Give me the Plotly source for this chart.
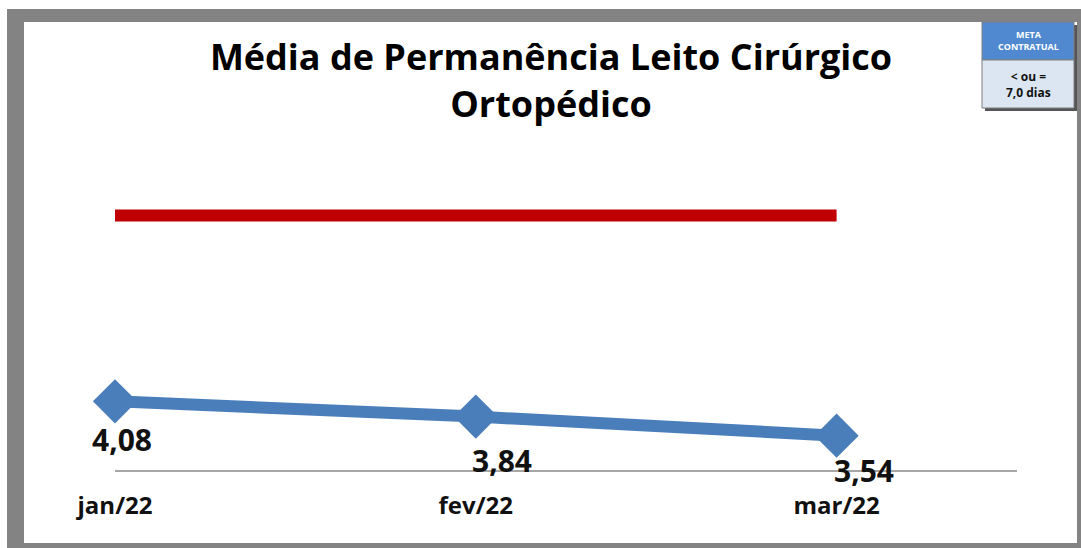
import plotly.graph_objects as go

# ---- data ----
months = ["jan/22", "fev/22", "mar/22"]
media_permanencia = [4.08, 3.84, 3.54]
meta_contratual = [7.0, 7.0, 7.0]
label_texts = ["4,08", "3,84", "3,54"]

# ---- styling / layout helpers ----
W, H = 1081, 548
ML, MR, MT, MB = 115, 64, 152, 78
PW, PH = W - ML - MR, H - MT - MB

def px(x):
    return (x - ML) / PW

def py(y):
    return (H - MB - y) / PH

label_shifts = [(7, -38), (26, -44), (27, -35)]

fig = go.Figure()

fig.add_trace(go.Scatter(
    x=months, y=meta_contratual, mode="lines",
    line=dict(color="#C00000", width=12),
    hoverinfo="skip", showlegend=False, cliponaxis=False,
))
fig.add_trace(go.Scatter(
    x=months, y=media_permanencia, mode="lines+markers",
    line=dict(color="#4A7EBB", width=12),
    marker=dict(symbol="diamond", size=34, color="#4A7EBB"),
    showlegend=False, cliponaxis=False,
))

annotations = []
for m, v, t, (dx, dy) in zip(months, media_permanencia, label_texts, label_shifts):
    annotations.append(dict(
        x=m, y=v, xref="x", yref="y", text=t, showarrow=False,
        xshift=dx, yshift=dy,
        font=dict(family="Open Sans", size=30, color="#111111", weight=700),
    ))

# legend box text
annotations.append(dict(
    x=px(1028), y=py(41), xref="paper", yref="paper",
    xanchor="center", yanchor="middle",
    text="META<br>CONTRATUAL", showarrow=False,
    font=dict(family="Open Sans", size=9, color="white", weight=700),
    align="center",
))
annotations.append(dict(
    x=px(1028), y=py(84), xref="paper", yref="paper",
    xanchor="center", yanchor="middle",
    text="< ou =<br>7,0 dias", showarrow=False,
    font=dict(family="Open Sans", size=12, color="#111111", weight=700),
    align="center",
))

gray = "#838383"
shapes = [
    # frame
    dict(type="rect", xref="paper", yref="paper", x0=px(7), x1=px(24), y0=py(548), y1=py(9),
         fillcolor=gray, line=dict(width=0), layer="above"),
    dict(type="rect", xref="paper", yref="paper", x0=px(7), x1=px(1081), y0=py(22), y1=py(9),
         fillcolor=gray, line=dict(width=0), layer="above"),
    dict(type="rect", xref="paper", yref="paper", x0=px(1077), x1=px(1081), y0=py(548), y1=py(9),
         fillcolor=gray, line=dict(width=0), layer="above"),
    dict(type="rect", xref="paper", yref="paper", x0=px(7), x1=px(1081), y0=py(548), y1=py(543),
         fillcolor=gray, line=dict(width=0), layer="above"),
    # legend box shadow
    dict(type="rect", xref="paper", yref="paper", x0=px(985), x1=px(1077), y0=py(111), y1=py(25),
         fillcolor="#555555", line=dict(width=0), layer="above"),
    # legend box
    dict(type="rect", xref="paper", yref="paper", x0=px(982), x1=px(1074), y0=py(60), y1=py(22),
         fillcolor="#5089D0", line=dict(width=1, color="#7F7F7F"), layer="above"),
    dict(type="rect", xref="paper", yref="paper", x0=px(982), x1=px(1074), y0=py(108), y1=py(60),
         fillcolor="#DCE6F2", line=dict(width=1, color="#7F7F7F"), layer="above"),
]

fig.update_layout(
    width=W, height=H,
    margin=dict(l=ML, r=MR, t=MT, b=MB),
    paper_bgcolor="white", plot_bgcolor="white",
    title=dict(
        text="Média de Permanência Leito Cirúrgico<br>Ortopédico",
        x=551 / W, xanchor="center", xref="container",
        y=1 - 70 / H, yanchor="top", yref="container",
        font=dict(family="Open Sans", size=36, color="black", weight=700),
    ),
    xaxis=dict(
        type="category", range=[0, 2.5],
        showgrid=False, zeroline=False,
        showline=True, linecolor="#A6A6A6", linewidth=1.5,
        ticks="", ticklabelstandoff=13,
        tickfont=dict(family="Open Sans", size=24, color="#111111", weight=700),
    ),
    yaxis=dict(
        range=[3, 8], visible=False, showgrid=False, zeroline=False,
    ),
    annotations=annotations,
    shapes=shapes,
)

fig.write_html("out.html", config={"displayModeBar": False})

with open("out.html", "r", encoding="utf-8") as f:
    html = f.read()
html = html.replace("<body>", '<body style="margin:0;overflow:hidden">', 1)
with open("out.html", "w", encoding="utf-8") as f:
    f.write(html)
